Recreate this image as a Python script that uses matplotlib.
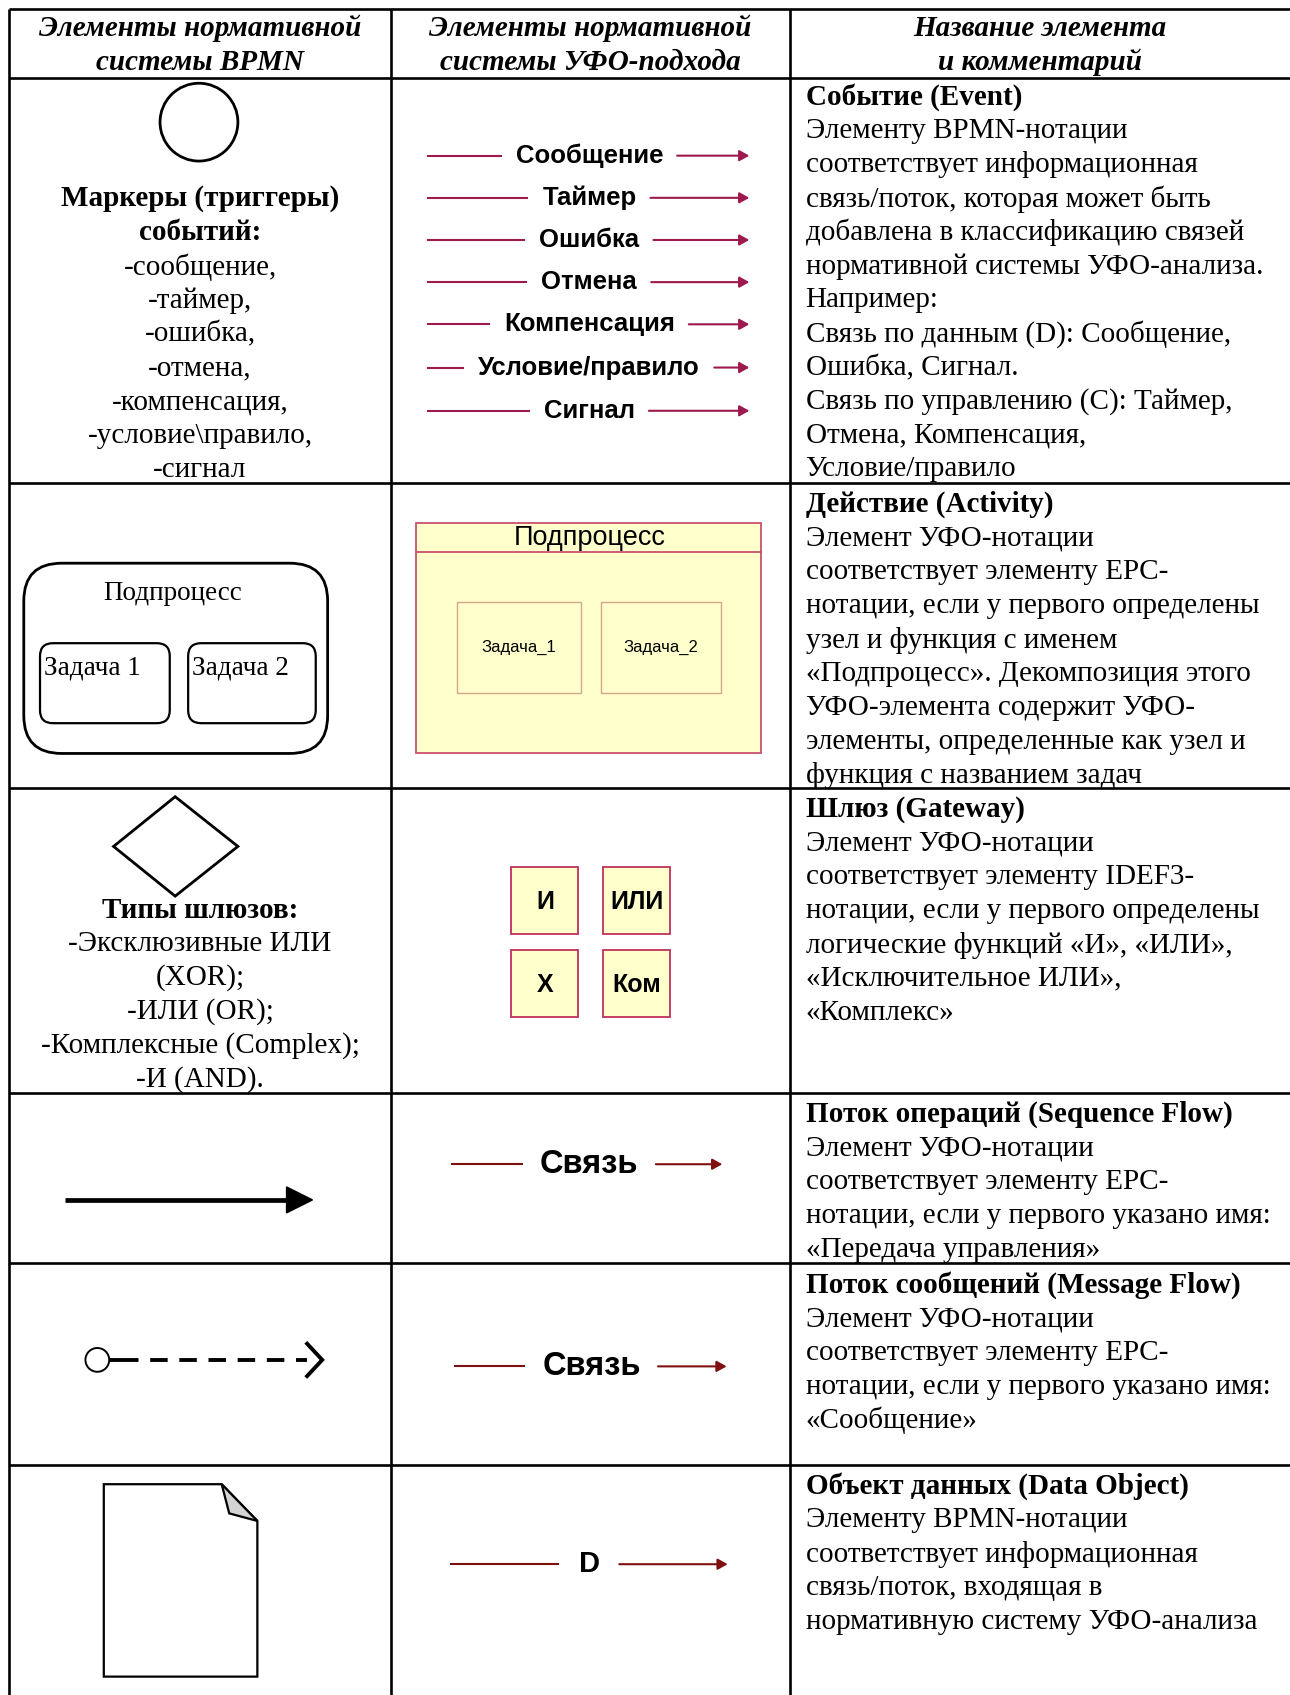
import matplotlib
matplotlib.use("Agg")
import matplotlib.pyplot as plt
from matplotlib.patches import Circle, Rectangle, FancyBboxPatch, Polygon

# ---------------- content ----------------
header_col1 = ["Элементы нормативной", "системы BPMN"]
header_col2 = ["Элементы нормативной", "системы УФО-подхода"]
header_col3 = ["Название элемента", "и комментарий"]

event_heading = ["Маркеры (триггеры)", "событий:"]
event_markers = ["-сообщение,", "-таймер,", "-ошибка,", "-отмена,",
                 "-компенсация,", "-условие\\правило,", "-сигнал"]
event_links = ["Сообщение", "Таймер", "Ошибка", "Отмена",
               "Компенсация", "Условие/правило", "Сигнал"]

subprocess_label = "Подпроцесс"
bpmn_tasks = ["Задача 1", "Задача 2"]
ufo_tasks = ["Задача_1", "Задача_2"]

gateway_heading = "Типы шлюзов:"
gateway_types = ["-Эксклюзивные ИЛИ", "(XOR);", "-ИЛИ (OR);",
                 "-Комплексные (Complex);", "-И (AND)."]
gateway_ufo = ["И", "ИЛИ", "X", "Ком"]

sequence_link = "Связь"
message_link = "Связь"
data_link = "D"

comment_titles = ["Событие (Event)", "Действие (Activity)", "Шлюз (Gateway)",
                  "Поток операций (Sequence Flow)", "Поток сообщений (Message Flow)",
                  "Объект данных (Data Object)"]
comment_event = ["Элементу BPMN-нотации", "соответствует информационная",
                 "связь/поток, которая может быть", "добавлена в классификацию связей",
                 "нормативной системы УФО-анализа.", "Например:",
                 "Связь по данным (D): Сообщение,", "Ошибка, Сигнал.",
                 "Связь по управлению (C): Таймер,", "Отмена, Компенсация,",
                 "Условие/правило"]
comment_activity = ["Элемент УФО-нотации", "соответствует элементу EPC-",
                    "нотации, если у первого определены", "узел и функция с именем",
                    "«Подпроцесс». Декомпозиция этого", "УФО-элемента содержит УФО-",
                    "элементы, определенные как узел и", "функция с названием задач"]
comment_gateway = ["Элемент УФО-нотации", "соответствует элементу IDEF3-",
                   "нотации, если у первого определены", "логические функций «И», «ИЛИ»,",
                   "«Исключительное ИЛИ»,", "«Комплекс»"]
comment_sequence = ["Элемент УФО-нотации", "соответствует элементу EPC-",
                    "нотации, если у первого указано имя:", "«Передача управления»"]
comment_message = ["Элемент УФО-нотации", "соответствует элементу EPC-",
                   "нотации, если у первого указано имя:", "«Сообщение»"]
comment_data = ["Элементу BPMN-нотации", "соответствует информационная",
                "связь/поток, входящая в", "нормативную систему УФО-анализа"]

# ---------------- layout / style ----------------
W, H = 1193, 1568
SERIF = "Liberation Serif"
SANS = "Liberation Sans"
FS = 21
LINE = 31.3
DY = 2
MAG = "#9e1a4e"
DRED = "#7f1010"
YEL = "#ffffcc"

fig = plt.figure(figsize=(12.9, 16.95), dpi=100)
ax = fig.add_axes([0, 0, 1, 1])
ax.set_xlim(0, W)
ax.set_ylim(H, 0)
ax.axis("off")
renderer = fig.canvas.get_renderer()

# table grid
row_lines = [8, 72, 447, 729, 1011, 1168, 1355]
col_lines = [8, 362, 731]
for y in row_lines:
    ax.plot([8, W], [y, y], color="black", lw=1.9, solid_capstyle="butt")
for x in col_lines:
    ax.plot([x, x], [8, H], color="black", lw=1.9, solid_capstyle="butt")

# header
for xc, lines in zip([185, 546, 962], [header_col1, header_col2, header_col3]):
    for i, s in enumerate(lines):
        ax.text(xc, 26 + i * 32, s, ha="center", va="center", fontsize=21,
                family=SERIF, weight="bold", style="italic")


def serif(x, y, s, ha="left", bold=False, fs=FS):
    return ax.text(x, y + DY, s, ha=ha, va="center", fontsize=fs, family=SERIF,
                   weight="bold" if bold else "normal")


# right column comments
starts = [88, 465, 747, 1029, 1187, 1373]
bodies = [comment_event, comment_activity, comment_gateway,
          comment_sequence, comment_message, comment_data]
for y0, title, body in zip(starts, comment_titles, bodies):
    serif(745, y0, title, bold=True)
    for i, s in enumerate(body):
        serif(745, y0 + (i + 1) * LINE, s)


def link(y, label, xc, x0, x1, gap, color, fs, weight, lw, ms):
    t = ax.text(xc, y, label, ha="center", va="center", fontsize=fs,
                family=SANS, weight=weight)
    bb = t.get_window_extent(renderer).transformed(ax.transData.inverted())
    left, right = min(bb.x0, bb.x1), max(bb.x0, bb.x1)
    ax.plot([x0, left - gap], [y, y], color=color, lw=lw, solid_capstyle="butt")
    ax.annotate("", xy=(x1, y), xytext=(right + gap, y),
                arrowprops=dict(arrowstyle="-|>,head_length=0.45,head_width=0.25",
                                color=color, lw=lw,
                                shrinkA=0, shrinkB=0, mutation_scale=ms))


# ---- row 1: events ----
ax.add_patch(Circle((184, 113), 36, fill=False, lw=2.0, ec="black"))
serif(185, 182, event_heading[0], ha="center", bold=True)
serif(185, 213, event_heading[1], ha="center", bold=True)
for i, s in enumerate(event_markers):
    serif(185, 245 + i * LINE, s, ha="center")

ev_y = [144, 183, 222, 261, 300, 340, 380]
for y, s in zip(ev_y, event_links):
    link(y, s, 545, 395, 693, 13, MAG, 18.5, "bold", 1.5, 13)

# ---- row 2: activity ----
ax.add_patch(FancyBboxPatch((22, 521), 281, 176,
                            boxstyle="round,pad=0,rounding_size=35",
                            fill=False, ec="black", lw=2.0))
serif(160, 547, subprocess_label, ha="center", fs=19.5)
for x0, wdt, s in zip([37, 174], [120, 118], bpmn_tasks):
    ax.add_patch(FancyBboxPatch((x0, 595), wdt, 74,
                                boxstyle="round,pad=0,rounding_size=12",
                                fill=False, ec="black", lw=1.6))
    ax.text(x0 + 4, 618, s, ha="left", va="center", fontsize=19.5, family=SERIF)

ax.add_patch(Rectangle((385, 484), 319, 213, fc=YEL, ec="#c8506e", lw=1.3))
ax.plot([385, 704], [511, 511], color="#c8506e", lw=1.3)
ax.text(545, 498, subprocess_label, ha="center", va="center", fontsize=19.5,
        family=SANS)
for x0, wdt, s in zip([423, 556], [114, 111], ufo_tasks):
    ax.add_patch(Rectangle((x0, 557), wdt, 84, fc=YEL, ec="#d4a888", lw=1.0))
    ax.text(x0 + wdt / 2, 599, s, ha="center", va="center", fontsize=12,
            family=SANS)

# ---- row 3: gateway ----
ax.add_patch(Polygon([(162, 737), (220, 783), (162, 829), (105, 783)],
                     closed=True, fill=False, ec="black", lw=2.0))
serif(185, 840, gateway_heading, ha="center", bold=True)
for i, s in enumerate(gateway_types):
    serif(185, 871 + i * LINE, s, ha="center")

gw_pos = [(473, 802), (558, 802), (473, 879), (558, 879)]
for (x0, y0), s in zip(gw_pos, gateway_ufo):
    ax.add_patch(Rectangle((x0, y0), 62, 62, fc=YEL, ec="#c0305a", lw=1.3))
    ax.text(x0 + 31, y0 + 32, s, ha="center", va="center", fontsize=18,
            family=SANS, weight="bold")

# ---- row 4: sequence flow ----
ax.plot([60, 268], [1110, 1110], color="black", lw=3.4, solid_capstyle="butt")
ax.add_patch(Polygon([(265, 1098), (289, 1110), (265, 1122)], closed=True,
                     fc="black", ec="black", lw=1))
link(1077, sequence_link, 545, 417, 668, 16, DRED, 23.5, "bold", 1.5, 13)

# ---- row 5: message flow ----
ax.add_patch(Circle((90, 1258), 11, fill=False, ec="black", lw=1.4))
ax.plot([101, 112], [1258, 1258], color="black", lw=2.8, solid_capstyle="butt")
ax.plot([112, 284], [1258, 1258], color="black", lw=2.8,
        dashes=(4.5, 3.0), solid_capstyle="butt")
ax.plot([284, 298, 284], [1243, 1258, 1273], color="black", lw=2.8,
        solid_joinstyle="miter")
link(1264, message_link, 547, 420, 672, 16, DRED, 23.5, "bold", 1.5, 13)

# ---- row 6: data object ----
ax.add_patch(Polygon([(96, 1373), (205, 1373), (238, 1407), (238, 1551),
                      (96, 1551)], closed=True, fill=False, ec="black", lw=1.6))
ax.add_patch(Polygon([(205, 1373), (212, 1400), (238, 1407)], closed=True,
                     fc="#d3d3d3", ec="black", lw=1.6))
link(1447, data_link, 545, 416, 673, 18, DRED, 21, "bold", 1.5, 13)

fig.savefig("out.png", dpi=100)
